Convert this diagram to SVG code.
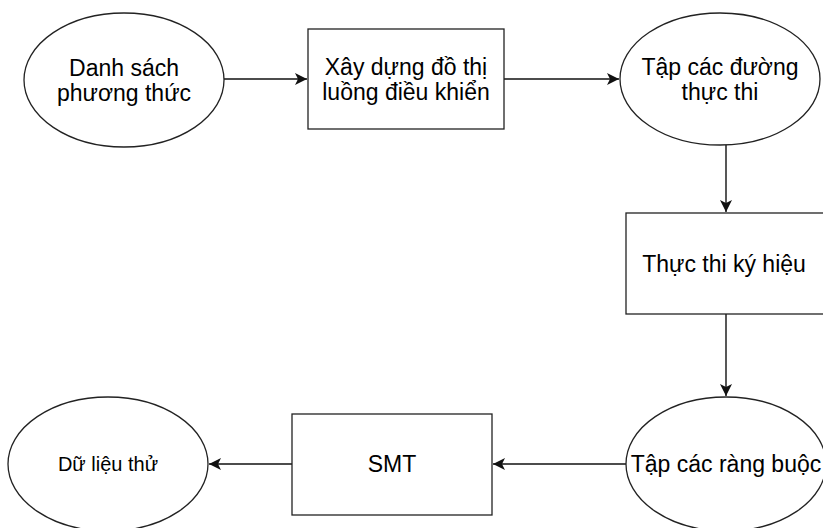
<svg xmlns="http://www.w3.org/2000/svg" width="823" height="528" viewBox="0 0 823 528">
<defs>
<style>
.shape{fill:#fff;stroke:#222;stroke-width:1.3}
.lbl{font-family:"Liberation Sans",Arial,Helvetica,sans-serif;font-size:23px;fill:#000;text-anchor:middle}
.small{font-size:20px}
.edge{fill:none;stroke:#111;stroke-width:1.4}
</style>
<marker id="arr" markerUnits="userSpaceOnUse" markerWidth="13" markerHeight="12" refX="12" refY="6" orient="auto">
<path d="M0,0 L12,6 L0,12 L3,6 z" fill="#111"/>
</marker>
</defs>
<rect width="823" height="528" fill="#fff"/>
<g id="connectors">
<line class="edge" x1="224" y1="79" x2="307" y2="79" marker-end="url(#arr)"/>
<line class="edge" x1="504" y1="79" x2="619" y2="79" marker-end="url(#arr)"/>
<line class="edge" x1="726" y1="145" x2="726" y2="212" marker-end="url(#arr)"/>
<line class="edge" x1="726" y1="314" x2="726" y2="396" marker-end="url(#arr)"/>
<line class="edge" x1="626" y1="464" x2="493" y2="464" marker-end="url(#arr)"/>
<line class="edge" x1="292" y1="464" x2="209" y2="464" marker-end="url(#arr)"/>
</g>
<g id="n1">
<ellipse class="shape" cx="124" cy="80" rx="100" ry="67"/>
<text class="lbl" x="124" y="76">Danh sách</text>
<text class="lbl" x="124" y="101">phương thức</text>
</g>
<g id="n2">
<rect class="shape" x="308" y="29" width="196" height="100"/>
<text class="lbl" x="406" y="75">Xây dựng đồ thị</text>
<text class="lbl" x="406" y="100">luồng điều khiển</text>
</g>
<g id="n3">
<ellipse class="shape" cx="720" cy="79" rx="100" ry="66"/>
<text class="lbl" x="720" y="75">Tập các đường</text>
<text class="lbl" x="720" y="100">thực thi</text>
</g>
<g id="n4">
<rect class="shape" x="626" y="213" width="200" height="101"/>
<text class="lbl" x="724" y="272">Thực thi ký hiệu</text>
</g>
<g id="n5">
<ellipse class="shape" cx="726" cy="464" rx="100" ry="67"/>
<text class="lbl" x="726" y="472">Tập các ràng buộc</text>
</g>
<g id="n6">
<rect class="shape" x="292" y="414" width="200" height="101"/>
<text class="lbl" x="392" y="472">SMT</text>
</g>
<g id="n7">
<ellipse class="shape" cx="108" cy="464" rx="100" ry="67"/>
<text class="lbl small" x="108" y="471">Dữ liệu thử</text>
</g>
</svg>
